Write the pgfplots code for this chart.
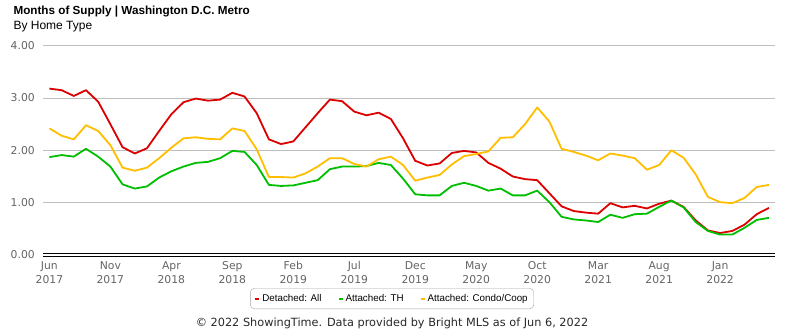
\documentclass[border=0pt]{standalone}
\usepackage{fontspec}
\setmainfont{DejaVu Sans}
\newfontfamily\arial{Liberation Sans}
\usepackage{pgfplots}
\pgfplotsset{compat=1.18}
\usepackage{pgfplotstable}
\definecolor{cred}{RGB}{221,0,0}
\definecolor{cgreen}{RGB}{0,190,0}
\definecolor{cgold}{RGB}{255,190,0}
\definecolor{tickgray}{RGB}{100,100,100}
\definecolor{gridgray}{RGB}{190,190,190}
\definecolor{foot}{RGB}{40,40,40}

\pgfplotstableread{
i red green gold
0 3.18 1.87 2.42
1 3.15 1.91 2.28
2 3.04 1.88 2.21
3 3.15 2.03 2.48
4 2.93 1.88 2.37
5 2.50 1.69 2.10
6 2.06 1.35 1.67
7 1.94 1.27 1.61
8 2.04 1.31 1.67
9 2.37 1.48 1.85
10 2.69 1.60 2.05
11 2.92 1.69 2.23
12 2.99 1.76 2.25
13 2.95 1.78 2.22
14 2.97 1.85 2.21
15 3.10 1.99 2.42
16 3.03 1.97 2.37
17 2.71 1.72 2.02
18 2.21 1.34 1.49
19 2.12 1.32 1.49
20 2.17 1.33 1.48
21 2.44 1.38 1.56
22 2.71 1.43 1.69
23 2.97 1.64 1.85
24 2.94 1.69 1.85
25 2.74 1.69 1.74
26 2.67 1.70 1.69
27 2.72 1.76 1.83
28 2.60 1.72 1.88
29 2.23 1.46 1.72
30 1.80 1.16 1.42
31 1.71 1.14 1.48
32 1.75 1.14 1.53
33 1.95 1.32 1.73
34 1.99 1.38 1.89
35 1.96 1.32 1.93
36 1.76 1.23 1.98
37 1.65 1.27 2.24
38 1.50 1.14 2.25
39 1.45 1.14 2.50
40 1.43 1.23 2.82
41 1.18 1.01 2.55
42 0.93 0.73 2.03
43 0.84 0.68 1.97
44 0.81 0.66 1.90
45 0.79 0.63 1.81
46 0.99 0.77 1.94
47 0.91 0.71 1.90
48 0.94 0.78 1.85
49 0.89 0.79 1.63
50 0.98 0.92 1.72
51 1.04 1.04 2.00
52 0.92 0.91 1.86
53 0.66 0.63 1.54
54 0.47 0.46 1.11
55 0.42 0.39 1.01
56 0.46 0.39 0.99
57 0.58 0.52 1.09
58 0.78 0.67 1.30
59 0.90 0.71 1.34
}\data

\begin{document}
\begin{tikzpicture}
\begin{axis}[
  at={(0,0)}, anchor=south west,
  scale only axis, width=731.7pt, height=209.3pt,
  xmin=-0.5, xmax=59.5, ymin=0, ymax=4,
  axis line style={draw=none},
  major tick length=0pt,
  ytick={0,1,2,3,4},
  ymajorgrids, grid style={gridgray, line width=0.9pt},
  yticklabel={\pgfmathprintnumber[fixed,fixed zerofill,precision=2,assume math mode=true]{\tick}},
  yticklabel style={font=\fontsize{10.8}{13}\selectfont, text=tickgray, xshift=-5pt},
  extra y ticks={0}, extra y tick labels={},
  extra y tick style={grid style={black, line width=0.9pt, double=white, double distance=1.4pt}},
  xtick={0,5,...,55},
  xticklabels={{Jun\\2017},{Nov\\2017},{Apr\\2018},{Sep\\2018},{Feb\\2019},{Jul\\2019},{Dec\\2019},{May\\2020},{Oct\\2020},{Mar\\2021},{Aug\\2021},{Jan\\2022}},
  xticklabel style={align=center, font=\fontsize{10.8}{14}\selectfont, text=tickgray, yshift=-3pt},
  legend columns=-1,
  legend style={at={(0.4766,-0.158)}, anchor=north, draw=gray!70, rounded corners=4pt,
    font=\arial\fontsize{9.8}{12}\selectfont, inner xsep=4pt, inner ysep=4pt,
    /tikz/every even column/.append style={column sep=14pt}},
  legend image code/.code={\draw[#1, line width=2pt] (0pt,0pt) -- (4pt,0pt);},
  every axis plot/.append style={line width=1.8pt, line join=round},
]
\addplot[cred, no markers] table[x=i, y=red] {\data};
\addlegendentry{Detached: All}
\addplot[cgreen, no markers] table[x=i, y=green] {\data};
\addlegendentry{Attached: TH}
\addplot[cgold, no markers] table[x=i, y=gold] {\data};
\addlegendentry{Attached: Condo/Coop}
\end{axis}
\node[anchor=base west, font=\arial\bfseries\fontsize{11.7}{14}\selectfont] at (-33.3pt,240pt) {Months of Supply | Washington D.C. Metro};
\node[anchor=base west, font=\arial\fontsize{12}{14}\selectfont] at (-33.3pt,225pt) {By Home Type};
\node[anchor=base, font=\fontsize{11.3}{13}\selectfont, text=foot] at (348.7pt,-71pt) {© 2022 ShowingTime. Data provided by Bright MLS as of Jun 6, 2022};
\pgfresetboundingbox
\path (-43.3pt,-75pt) rectangle (741.7pt,255pt);
\end{tikzpicture}
\end{document}
